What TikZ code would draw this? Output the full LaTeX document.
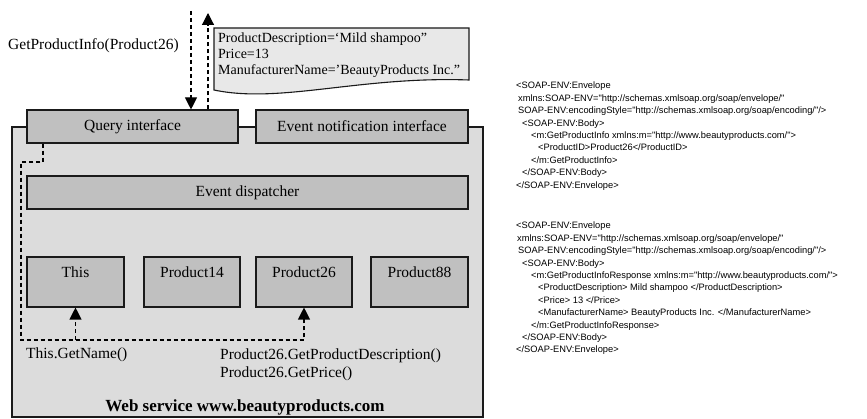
\documentclass[tikz,border=0pt]{standalone}
\usepackage{fontspec}
\setmainfont{Liberation Serif}
\newfontfamily\soapfont{Liberation Sans}
\usetikzlibrary{arrows.meta}
\definecolor{wsfill}{HTML}{DCDCDC}
\definecolor{boxfill}{HTML}{C0C0C0}
\definecolor{notefill}{HTML}{E8E8E8}
\definecolor{edgecol}{HTML}{1A1A1A}
\begin{document}
\begin{tikzpicture}[x=1pt,y=-1pt,
  box/.style={draw=edgecol, line width=1.1pt, fill=boxfill, inner sep=0pt, font=\fontsize{15.5}{18}\selectfont},
  ifbox/.style={box, minimum width=#1, minimum height=33pt},
  prodbox/.style={box, minimum width=97pt, text height=21pt, text depth=29pt},
  dashline/.style={draw=black, line width=1.1pt, dash pattern=on 4pt off 3pt},
  dasharrow/.style={dashline, -{Triangle[length=12pt,width=12pt]}},
  lbl/.style={inner sep=0pt, font=\fontsize{15.5}{18}\selectfont},
  soap/.style={inner sep=0pt, anchor=north west, align=left, font=\soapfont\fontsize{9.3}{12.4}\selectfont}
]
\useasboundingbox (0,0) rectangle (867,419);
% web service container
\node[draw=edgecol, line width=1.1pt, fill=wsfill, minimum width=471pt, minimum height=290pt, inner sep=0pt] (ws) at (247.5,272) {};
% response note
\draw[draw=edgecol, line width=1.1pt, fill=notefill] (214,28) -- (469,28) -- (469,80) .. controls (360,76) and (280,104) .. (214,90) -- cycle;
\node[inner sep=0pt, anchor=north west, align=left, font=\fontsize{14}{16}\selectfont] (resp) at (218,32.5) {ProductDescription=‘Mild shampoo”\\Price=13\\ManufacturerName=’BeautyProducts Inc.”};
% boxes
\node[ifbox=211pt] (query) at (132.5,126.5) {Query interface};
\node[ifbox=212pt] (notif) at (362,126.5) {Event notification interface};
\node[ifbox=441pt] (disp) at (247.5,192.5) {Event dispatcher};
\node[prodbox] (this) at (75.5,282) {This};
\node[prodbox, minimum width=96pt] (p14) at (192,282) {Product14};
\node[prodbox, minimum width=96pt] (p26) at (304,282) {Product26};
\node[prodbox] (p88) at (419.5,282) {Product88};
% request / response arrows
\coordinate (reqtop) at (191,11);
\coordinate (resptop) at (208,13);
\draw[dasharrow] (reqtop) -- (reqtop |- query.north);
\draw[dasharrow] (resptop |- query.north) -- (resptop);
% internal calls
\coordinate (bendA) at (43,162);
\coordinate (bendB) at (21,162);
\coordinate (bendC) at (21,340);
\draw[dasharrow] (bendA |- query.south) -- (bendA) -- (bendB) -- (bendC) -- (bendC -| p26.south) -- (p26.south);
\draw[dasharrow] (bendC -| this.south) -- (this.south);
% labels
\node[lbl, anchor=base west] (getinfo) at (8,50) {GetProductInfo(Product26)};
\node[lbl, anchor=base west] (thiscall) at (26,359) {This.GetName()};
\node[lbl, anchor=north west, align=left] (p26call) at (220,348.3) {Product26.GetProductDescription()\\Product26.GetPrice()};
\node[inner sep=0pt, anchor=base, font=\bfseries\fontsize{17}{20}\selectfont] (wslabel) at (245,411) {Web service www.beautyproducts.com};
% SOAP messages
\node[soap] (soapreq) at (516,82) {<SOAP-ENV:Envelope\\
\hspace*{2pt}xmlns:SOAP-ENV="http://schemas.xmlsoap.org/soap/envelope/"\\
\hspace*{2pt}SOAP-ENV:encodingStyle="http://schemas.xmlsoap.org/soap/encoding/"/>\\
\hspace*{6pt}<SOAP-ENV:Body>\\
\hspace*{15pt}<m:GetProductInfo xmlns:m="http://www.beautyproducts.com/">\\
\hspace*{22pt}<ProductID>Product26</ProductID>\\
\hspace*{15pt}</m:GetProductInfo>\\
\hspace*{6pt}</SOAP-ENV:Body>\\
</SOAP-ENV:Envelope>};
\node[soap] (soapresp) at (516,222) {<SOAP-ENV:Envelope\\
\hspace*{1pt}xmlns:SOAP-ENV="http://schemas.xmlsoap.org/soap/envelope/"\\
\hspace*{2pt}SOAP-ENV:encodingStyle="http://schemas.xmlsoap.org/soap/encoding/"/>\\
\hspace*{6pt}<SOAP-ENV:Body>\\
\hspace*{15pt}<m:GetProductInfoResponse xmlns:m="http://www.beautyproducts.com/">\\
\hspace*{22pt}<ProductDescription> Mild shampoo </ProductDescription>\\
\hspace*{22pt}<Price> 13 </Price>\\
\hspace*{22pt}<ManufacturerName> BeautyProducts Inc. </ManufacturerName>\\
\hspace*{15pt}</m:GetProductInfoResponse>\\
\hspace*{6pt}</SOAP-ENV:Body>\\
</SOAP-ENV:Envelope>};
\end{tikzpicture}
\end{document}
